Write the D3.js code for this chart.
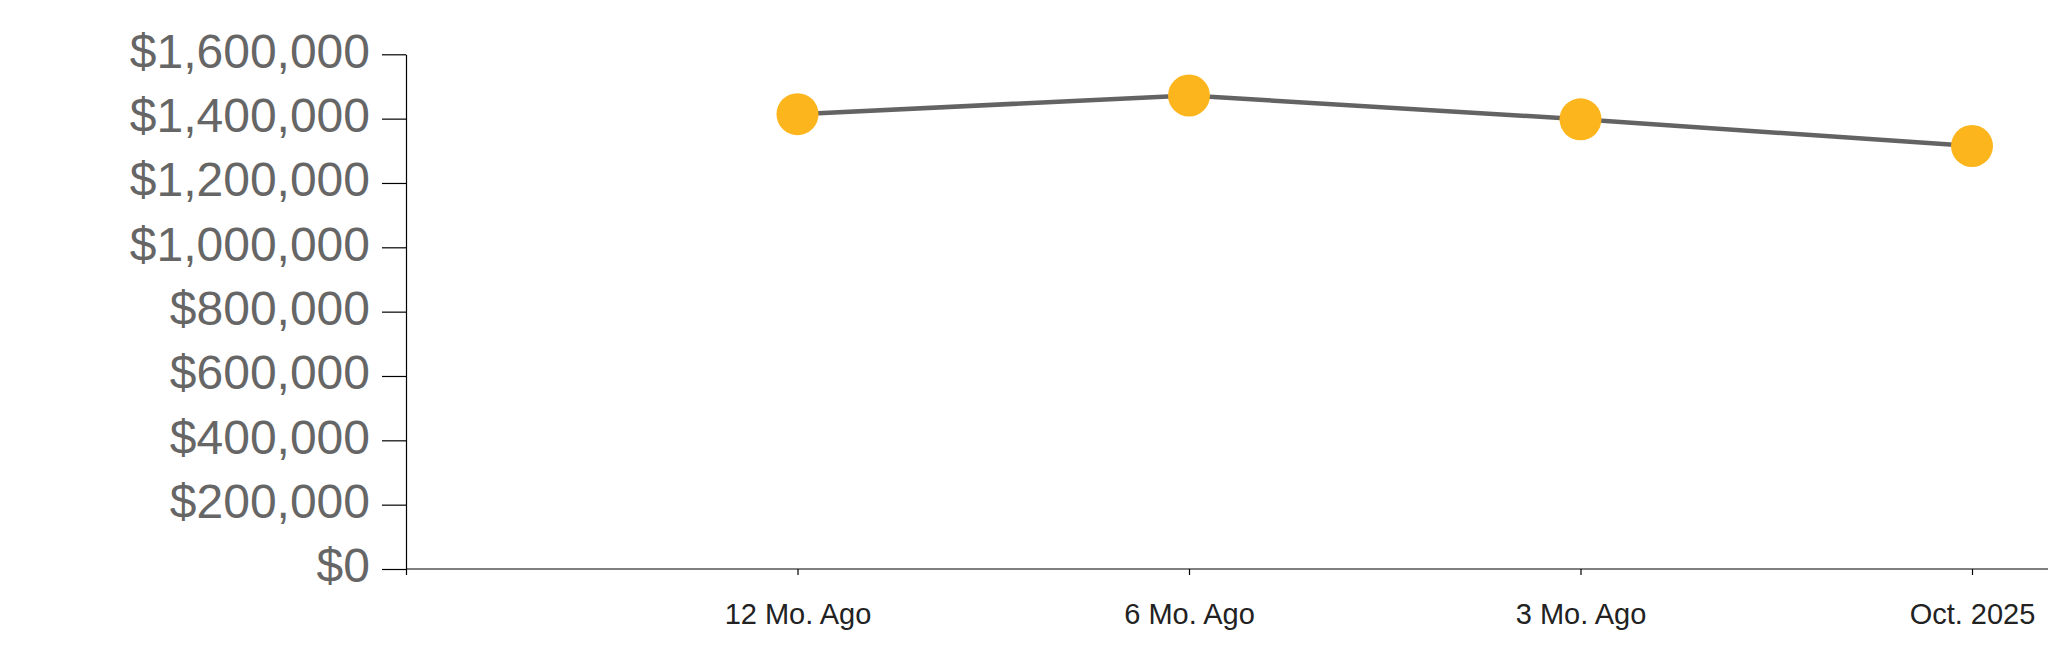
<!DOCTYPE html>
<html>
<head>
<meta charset="utf-8">
<script src="https://cdn.jsdelivr.net/npm/d3@7"></script>
<style>
  html, body { margin: 0; padding: 0; background: #fff; }
  svg { display: block; }
  text { font-family: "Liberation Sans", Arial, sans-serif; }
</style>
</head>
<body>
<svg id="chart" width="2048" height="663"></svg>
<script>
// ---- data ----
const categories = ["12 Mo. Ago", "6 Mo. Ago", "3 Mo. Ago", "Oct. 2025"];
const values = [1414000, 1472000, 1398000, 1315000];
const yTicks = [0, 200000, 400000, 600000, 800000, 1000000, 1200000, 1400000, 1600000];

// ---- layout ----
const W = 2048, H = 663;
const plotLeft = 406, plotBottom = 569, plotTop = 54.3, lastX = 1972;

const svg = d3.select("#chart");

const x = d3.scalePoint()
  .domain([""].concat(categories))
  .range([plotLeft, lastX]);

const y = d3.scaleLinear()
  .domain([0, 1600000])
  .range([plotBottom, plotTop]);

// y axis
const yAxis = d3.axisLeft(y)
  .tickValues(yTicks)
  .tickSize(24)
  .tickSizeOuter(0)
  .tickPadding(12)
  .tickFormat(d => "$" + d3.format(",")(d));

const gy = svg.append("g")
  .attr("transform", `translate(${plotLeft},0)`)
  .call(yAxis);
gy.select(".domain").attr("stroke", "#000").attr("stroke-width", 1.2);
gy.selectAll(".tick line").attr("stroke", "#000").attr("stroke-width", 1.2);
gy.selectAll(".tick text")
  .attr("fill", "#666")
  .attr("font-size", 48)
  .attr("dy", "0.27em");

// x axis
const xAxis = d3.axisBottom(x)
  .tickSize(6)
  .tickSizeOuter(0)
  .tickPadding(28);

const gx = svg.append("g")
  .attr("transform", `translate(0,${plotBottom})`)
  .call(xAxis);
gx.select(".domain")
  .attr("d", `M${plotLeft},0H${W}`)
  .attr("stroke", "#000").attr("stroke-width", 1.2);
gx.selectAll(".tick line").attr("stroke", "#000").attr("stroke-width", 1.2);
gx.selectAll(".tick text")
  .attr("fill", "#222")
  .attr("font-size", 29);

// line
const pts = categories.map((c, i) => ({ c, v: values[i] }));
const line = d3.line().x(d => x(d.c)).y(d => y(d.v));

svg.append("path")
  .datum(pts)
  .attr("d", line)
  .attr("fill", "none")
  .attr("stroke", "#636363")
  .attr("stroke-width", 4.5);

svg.selectAll("circle.pt")
  .data(pts)
  .join("circle")
  .attr("class", "pt")
  .attr("cx", d => x(d.c))
  .attr("cy", d => y(d.v))
  .attr("r", 21)
  .attr("fill", "#fcb51c");
</script>
</body>
</html>
